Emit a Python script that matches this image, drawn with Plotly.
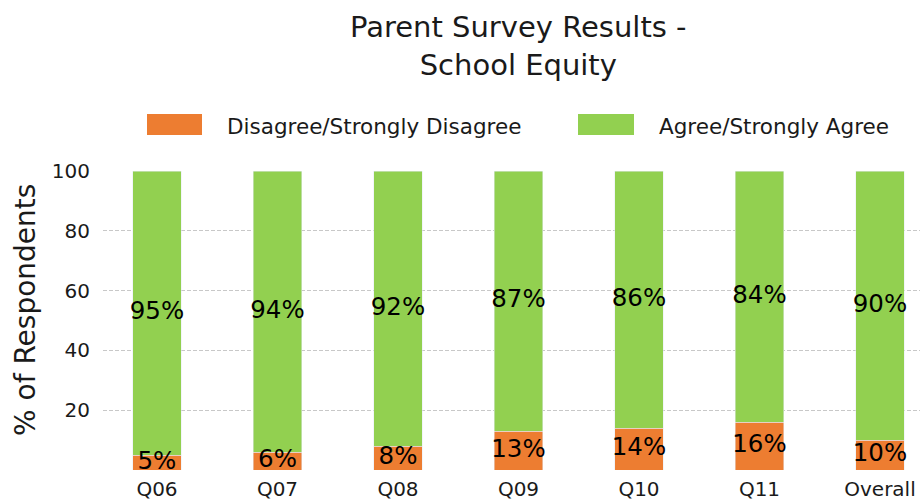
import plotly.graph_objects as go

categories = ["Q06", "Q07", "Q08", "Q09", "Q10", "Q11", "Overall"]
disagree = [5, 6, 8, 13, 14, 16, 10]
agree = [95, 94, 92, 87, 86, 84, 90]
series_names = ["Disagree/Strongly Disagree", "Agree/Strongly Agree"]
y_ticks = [20, 40, 60, 80, 100]

ORANGE = "#ED7D31"
GREEN = "#92D050"
FONT = "DejaVu Sans"
TXT = "#1a1a1a"

fig = go.Figure()
fig.add_trace(go.Bar(x=categories, y=disagree, marker_color=ORANGE, width=0.4,
                     name=series_names[0], showlegend=False))
fig.add_trace(go.Bar(x=categories, y=agree, marker_color=GREEN, width=0.4,
                     name=series_names[1], showlegend=False))

# segment-centre labels
fig.add_trace(go.Scatter(x=categories, y=[d / 2 for d in disagree], mode="text",
                         text=[f"{d}%" for d in disagree],
                         textfont=dict(size=24.5, color="black", family=FONT),
                         showlegend=False, hoverinfo="skip", cliponaxis=False))
fig.add_trace(go.Scatter(x=categories, y=[d + a / 2 for d, a in zip(disagree, agree)], mode="text",
                         text=[f"{a}%" for a in agree],
                         textfont=dict(size=24.5, color="black", family=FONT),
                         showlegend=False, hoverinfo="skip", cliponaxis=False))

L, T, B = 103, 171, 34
W, H = 920, 504
pw, ph = W - L, H - T - B


def px(x):
    return (x - L) / pw


def py(y):
    return (H - B - y) / ph


shapes = []
annotations = []
# custom legend
for i, (name, col, x0, x1, tx) in enumerate([
        (series_names[0], ORANGE, 147, 202, 225),
        (series_names[1], GREEN, 578, 634, 657)]):
    shapes.append(dict(type="rect", xref="paper", yref="paper",
                       x0=px(x0), x1=px(x1), y0=py(135), y1=py(114),
                       fillcolor=col, line=dict(width=0)))
    annotations.append(dict(text=name, xref="paper", yref="paper",
                            x=px(tx), y=py(126), xanchor="left", yanchor="middle",
                            showarrow=False, font=dict(size=21.5, color=TXT, family=FONT)))

annotations.append(dict(text="Parent Survey Results -<br>School Equity", xref="paper", yref="paper",
                        x=px(518), y=py(46), xanchor="center", yanchor="middle",
                        showarrow=False, font=dict(size=29, color=TXT, family=FONT)))
annotations.append(dict(text="% of Respondents", xref="paper", yref="paper",
                        x=px(25), y=py(310), xanchor="center", yanchor="middle", textangle=-90,
                        showarrow=False, font=dict(size=28, color=TXT, family=FONT)))

fig.update_layout(
    width=W, height=H,
    margin=dict(l=L, r=0, t=T, b=B),
    barmode="stack",
    bargap=0.6,
    plot_bgcolor="white", paper_bgcolor="white",
    font=dict(family=FONT, color=TXT),
    shapes=shapes, annotations=annotations,
    showlegend=False,
)
fig.update_xaxes(range=[-0.448, 6.332], showgrid=False, showline=False, zeroline=False,
                 ticks="", tickfont=dict(size=20, color=TXT, family=FONT), ticklabelstandoff=5)
fig.update_yaxes(range=[0, 100], tickvals=y_ticks, showgrid=True, gridcolor="#c8c8c8",
                 griddash="4px,2px", gridwidth=1, zeroline=False, showline=False, ticks="",
                 tickfont=dict(size=20, color=TXT, family=FONT), ticklabelstandoff=12)

fig.write_html("out.html", config={"displayModeBar": False},
               post_script="document.body.style.margin='0px';document.body.style.overflow='hidden';")
